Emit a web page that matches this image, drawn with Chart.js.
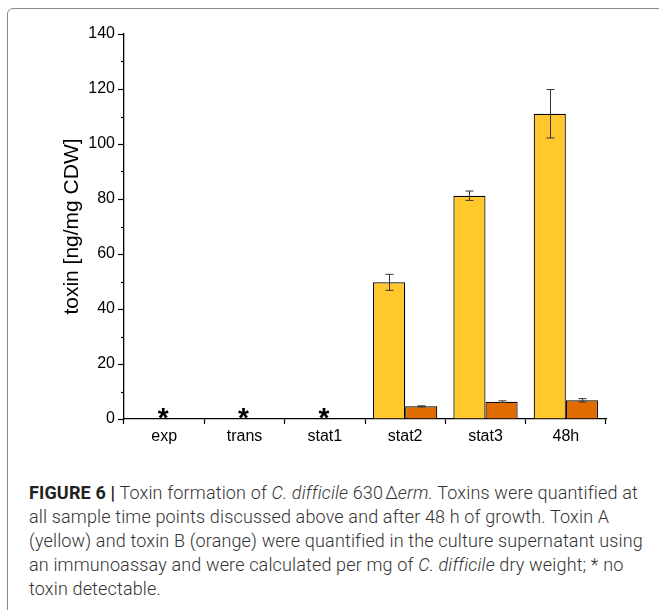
<!DOCTYPE html>
<html>
<head>
<meta charset="utf-8">
<script src="https://cdn.jsdelivr.net/npm/chart.js@4"></script>
<style>
  body { margin: 0; background: #fff; width: 659px; height: 610px; overflow: hidden; position: relative; }
  #frame { position: absolute; left: 7px; top: 8px; width: 700px; height: 700px;
           border: 1px solid #8a8a8a; border-radius: 6px; box-sizing: border-box; }
  #wrap { position: absolute; left: 0; top: 0; width: 659px; height: 470px; }
  #caption { position: absolute; left: 29px; top: 481px; width: 625px;
             font-family: Roboto, "Liberation Sans", Arial, sans-serif; font-weight: 300;
             font-size: 18px; letter-spacing: 0.15px; line-height: 24px; color: #333; white-space: nowrap; }
  #caption b { font-weight: 700; color: #222; }
</style>
</head>
<body>
<div id="frame"></div>
<div id="wrap"><canvas id="chart"></canvas></div>
<div id="caption">
  <b>FIGURE 6 |</b> Toxin formation of <i>C. difficile</i> 630&#8202;Δ<i>erm.</i> Toxins were quantified at<br>
  all sample time points discussed above and after 48 h of growth. Toxin A<br>
  (yellow) and toxin B (orange) were quantified in the culture supernatant using<br>
  an immunoassay and were calculated per mg of <i>C. difficile</i> dry weight; * no<br>
  toxin detectable.
</div>
<script>
// Sample time points
const categories = ['exp', 'trans', 'stat1', 'stat2', 'stat3', '48h'];

// Toxin A (yellow) and toxin B (orange), ng/mg CDW
const toxinA = [null, null, null, 49.7, 81.2, 111.0];
const toxinB = [null, null, null, 4.6, 6.3, 6.8];

// Error bars (+/-)
const errA = [null, null, null, 2.9, 1.7, 8.8];
const errB = [null, null, null, 0.2, 0.3, 0.6];

// "*" = no toxin detectable
const notDetected = [true, true, true, false, false, false];

const yTicks = [0, 20, 40, 60, 80, 100, 120, 140];
const yMinorTicks = [10, 30, 50, 70, 90, 110, 130];

const axisFont = { family: '"Liberation Sans", Arial, sans-serif', size: 16 };

/**
 * Error bars, minor ticks and asterisks
 */
const extrasPlugin = {
    id: 'extras',
    afterDatasetsDraw(chart) {
        const ctx = chart.ctx;
        const y = chart.scales.y;
        const x = chart.scales.x;

        ctx.save();
        ctx.strokeStyle = '#333';
        ctx.lineWidth = 1;
        [errA, errB].forEach((errs, di) => {
            const meta = chart.getDatasetMeta(di);
            const values = chart.data.datasets[di].data;
            meta.data.forEach((bar, i) => {
                if (values[i] == null || errs[i] == null) return;
                const cx = Math.round(bar.x) + 0.5;
                const top = y.getPixelForValue(values[i] + errs[i]);
                const bot = y.getPixelForValue(values[i] - errs[i]);
                ctx.beginPath();
                ctx.moveTo(cx, top);
                ctx.lineTo(cx, bot);
                ctx.moveTo(cx - 4, top);
                ctx.lineTo(cx + 4, top);
                ctx.moveTo(cx - 4, bot);
                ctx.lineTo(cx + 4, bot);
                ctx.stroke();
            });
        });

        // minor ticks on the y axis
        ctx.strokeStyle = '#000';
        ctx.lineWidth = 1.2;
        yMinorTicks.forEach(v => {
            const py = Math.round(y.getPixelForValue(v)) + 0.5;
            ctx.beginPath();
            ctx.moveTo(y.right - 3, py);
            ctx.lineTo(y.right, py);
            ctx.stroke();
        });

        // asterisks
        ctx.fillStyle = '#000';
        ctx.font = 'bold 28px "Liberation Sans", Arial, sans-serif';
        ctx.textAlign = 'center';
        ctx.textBaseline = 'alphabetic';
        notDetected.forEach((flag, i) => {
            if (!flag) return;
            const px = x.getPixelForValue(i);
            ctx.fillText('*', px - 1, y.getPixelForValue(0) + 8);
        });
        ctx.restore();
    }
};

function createToxinChart() {
    const ctx = document.getElementById('chart').getContext('2d');

    new Chart(ctx, {
        type: 'bar',
        data: {
            labels: categories,
            datasets: [{
                label: 'Toxin A',
                data: toxinA,
                backgroundColor: 'rgb(255, 200, 44)',
                borderColor: '#000',
                borderWidth: 1.2
            }, {
                label: 'Toxin B',
                data: toxinB,
                backgroundColor: 'rgb(224, 108, 0)',
                borderColor: '#000',
                borderWidth: 1.2
            }]
        },
        options: {
            responsive: true,
            maintainAspectRatio: false,
            animation: false,
            layout: {
                padding: { top: 34, right: 53, left: 0, bottom: 0 }
            },
            datasets: {
                bar: {
                    categoryPercentage: 0.8,
                    barPercentage: 1.0
                }
            },
            scales: {
                x: {
                    afterFit: s => { s.height = 51; },
                    grid: {
                        drawOnChartArea: false,
                        drawTicks: true,
                        tickLength: 5,
                        tickColor: '#000',
                        tickWidth: 1.2,
                        offset: true
                    },
                    border: { color: '#000', width: 1.3 },
                    ticks: { color: '#000', font: axisFont, padding: 3 }
                },
                y: {
                    min: 0,
                    max: 140,
                    afterFit: s => { s.width = 124; },
                    afterBuildTicks: s => { s.ticks = yTicks.map(v => ({ value: v })); },
                    grid: {
                        drawOnChartArea: false,
                        drawTicks: true,
                        tickLength: 6,
                        tickColor: '#000',
                        tickWidth: 1.2
                    },
                    border: { color: '#000', width: 1.3 },
                    ticks: { color: '#000', font: axisFont, padding: 3 },
                    title: {
                        display: true,
                        text: 'toxin [ng/mg CDW]',
                        color: '#000',
                        font: { family: '"Liberation Sans", Arial, sans-serif', size: 21 },
                        padding: { top: 60, bottom: 0 }
                    }
                }
            },
            plugins: {
                legend: { display: false },
                tooltip: { enabled: false }
            }
        },
        plugins: [extrasPlugin]
    });
}

createToxinChart();
</script>
</body>
</html>
